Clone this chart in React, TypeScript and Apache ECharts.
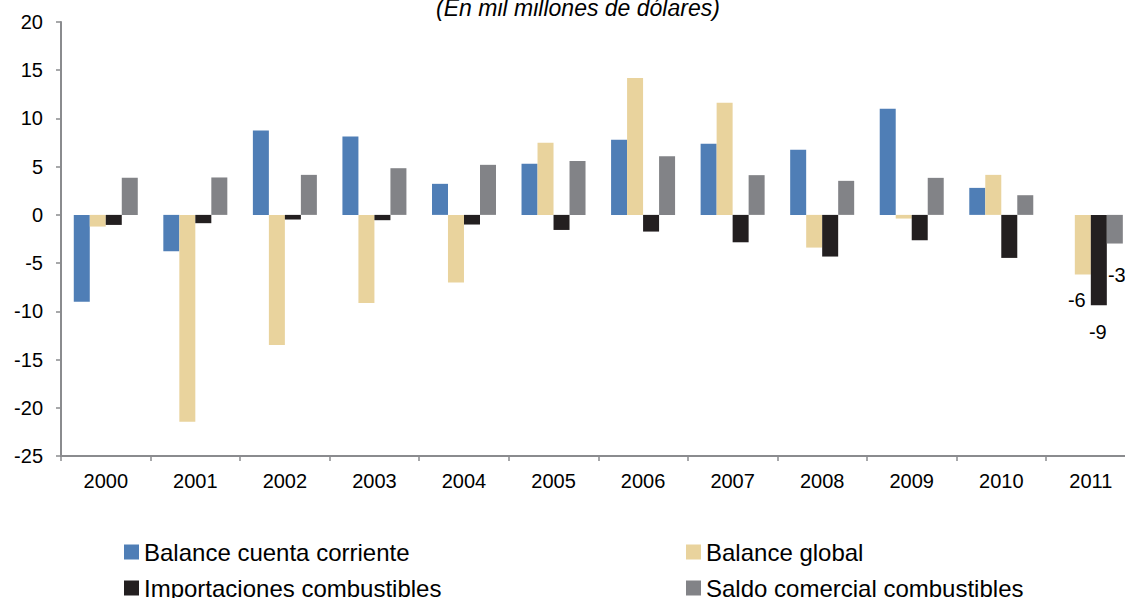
import React, { useEffect, useRef } from "react";
import * as echarts from "echarts";

const categories = ["2000", "2001", "2002", "2003", "2004", "2005", "2006", "2007", "2008", "2009", "2010", "2011"];
const cuentaCorriente = [-9.0, -3.77, 8.75, 8.13, 3.22, 5.29, 7.79, 7.37, 6.75, 11.0, 2.8, null];
const balanceGlobal = [-1.21, -21.44, -13.49, -9.13, -7.02, 7.47, 14.2, 11.63, -3.39, -0.38, 4.15, -6.19];
const importaciones = [-1.04, -0.86, -0.48, -0.55, -1.0, -1.56, -1.73, -2.84, -4.32, -2.63, -4.46, -9.37];
const saldoComercial = [3.84, 3.88, 4.15, 4.84, 5.19, 5.6, 6.09, 4.12, 3.53, 3.84, 2.04, -2.97];
const seriesNames = [
  "Balance cuenta corriente",
  "Balance global",
  "Importaciones combustibles",
  "Saldo comercial combustibles",
];
const titleText = "(En mil millones de dólares)";
const yTicks = { min: -25, max: 20, interval: 5 };

const FONT = "Liberation Sans, Arial, Helvetica, sans-serif";
const AXIS_GRAY = "#8a8b8e";

export default function App() {
  const ref = useRef<HTMLDivElement>(null);

  useEffect(() => {
    if (!ref.current) return;
    const chart = echarts.init(ref.current, null, { renderer: "svg" });

    const lastIdx = categories.length - 1;
    const withLastLabel = (values: (number | null)[], offset: number[], distance: number) =>
      values.map((v, i) =>
        i === lastIdx && v !== null
          ? {
              value: v,
              label: {
                show: true,
                position: "bottom",
                distance,
                offset,
                formatter: (p: any) => String(Math.round(p.value)),
                fontSize: 20,
                fontFamily: FONT,
                color: "#000",
              },
            }
          : v
      );

    const barBase = { type: "bar", barWidth: 16, barGap: "0%", xAxisIndex: 0, yAxisIndex: 0 };

    const legendPositions = [
      { left: 124, top: 540 },
      { left: 686, top: 540 },
      { left: 124, top: 576 },
      { left: 686, top: 576 },
    ];
    const legends = seriesNames.map((name, i) => ({
      orient: "horizontal",
      left: legendPositions[i].left,
      top: legendPositions[i].top,
      padding: 0,
      itemWidth: 15,
      itemHeight: 15,
      icon: "rect",
      data: [name],
      textStyle: { fontSize: 24, fontFamily: FONT, color: "#000", lineHeight: 24 },
    }));

    chart.setOption({
      animation: false,
      backgroundColor: "#ffffff",
      textStyle: { fontFamily: FONT },
      graphic: [
        {
          type: "text",
          x: 578,
          y: 19,
          style: {
            text: titleText,
            fontFamily: FONT,
            fontStyle: "italic",
            fontSize: 23,
            fill: "#000",
            textAlign: "center",
            textVerticalAlign: "bottom",
          },
        },
      ],
      grid: { left: 61, top: 22, width: 1074.6, height: 434, containLabel: false },
      legend: legends,
      xAxis: [
        {
          type: "category",
          data: categories,
          position: "bottom",
          axisLine: { show: false },
          axisTick: { show: false },
          axisLabel: { fontSize: 20, fontFamily: FONT, color: "#000", margin: 15 },
          splitLine: { show: false },
        },
        {
          type: "category",
          data: categories,
          position: "bottom",
          axisLine: { show: true, onZero: true, lineStyle: { color: AXIS_GRAY, width: 2 } },
          axisTick: { show: true, length: 5, lineStyle: { color: AXIS_GRAY, width: 1.5 } },
          axisLabel: { show: false },
          splitLine: { show: false },
        },
      ],
      yAxis: {
        type: "value",
        min: yTicks.min,
        max: yTicks.max,
        interval: yTicks.interval,
        axisLine: { show: true, onZero: false, lineStyle: { color: AXIS_GRAY, width: 2 } },
        axisTick: { show: true, length: 5, lineStyle: { color: AXIS_GRAY, width: 1.5 } },
        axisLabel: { fontSize: 20, fontFamily: FONT, color: "#000", margin: 18 },
        splitLine: { show: false },
      },
      series: [
        { ...barBase, name: seriesNames[0], data: cuentaCorriente, itemStyle: { color: "#4f7eb6" } },
        {
          ...barBase,
          name: seriesNames[1],
          data: withLastLabel(balanceGlobal, [-6, 0], 15),
          itemStyle: { color: "#e9d39d" },
        },
        {
          ...barBase,
          name: seriesNames[2],
          data: withLastLabel(importaciones, [-1, 0], 17),
          itemStyle: { color: "#231f20" },
        },
        {
          ...barBase,
          name: seriesNames[3],
          data: withLastLabel(saldoComercial, [2, 0], 21),
          itemStyle: { color: "#828387" },
        },
      ],
    });

    return () => chart.dispose();
  }, []);

  return (
    <div
      style={{
        position: "fixed",
        left: 0,
        top: 0,
        width: 1125,
        height: 598,
        overflow: "hidden",
        background: "#fff",
      }}
    >
      <div ref={ref} style={{ width: 1150, height: 598 }} />
    </div>
  );
}
